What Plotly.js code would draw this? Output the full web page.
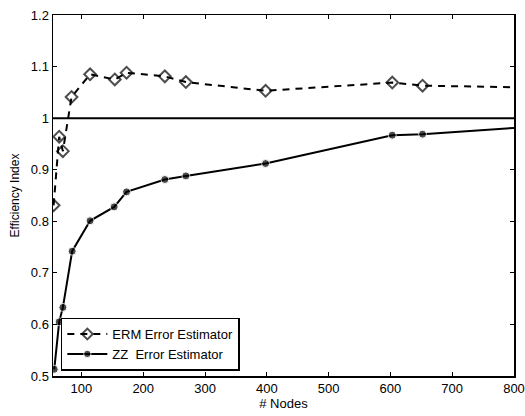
<!DOCTYPE html>
<html><head><meta charset="utf-8">
<script src="https://cdn.plot.ly/plotly-3.0.1.min.js"></script>
<style>html,body{margin:0;padding:0;background:#fff}</style>
</head><body>
<div id="chart" style="width:525px;height:416px"></div>
<script>
const ermNodes = [55, 64, 70, 84, 114, 154, 173, 235, 269, 398, 603, 652, 800];
const ermIndex = [0.831, 0.964, 0.936, 1.041, 1.085, 1.075, 1.088, 1.081, 1.070, 1.053, 1.069, 1.063, 1.060];
const zzNodes = [56, 64, 70, 85, 114, 153, 173, 235, 269, 398, 603, 652, 800];
const zzIndex = [0.513, 0.605, 0.633, 0.742, 0.801, 0.828, 0.857, 0.881, 0.888, 0.912, 0.967, 0.969, 0.981];
const refNodes = [54, 800];
const refIndex = [1, 1];
const xTicks = [100, 200, 300, 400, 500, 600, 700, 800];
const yTicks = [0.5, 0.6, 0.7, 0.8, 0.9, 1, 1.1, 1.2];

const mSizesErm = ermNodes.map((v, i) => i === ermNodes.length - 1 ? 0 : 9);
const mSizesZz = zzNodes.map((v, i) => i === zzNodes.length - 1 ? 0 : 8);

const traces = [
  {x: refNodes, y: refIndex, mode: 'lines', line: {color: '#000', width: 2}, showlegend: false, hoverinfo: 'skip'},
  {x: ermNodes, y: ermIndex, mode: 'lines+markers', name: 'ERM Error Estimator',
   line: {color: '#000', width: 2, dash: '7px,6px'},
   marker: {symbol: 'diamond-open', size: mSizesErm, color: '#000', line: {width: 2, color: '#000'}}},
  {x: zzNodes, y: zzIndex, mode: 'lines+markers', name: 'ZZ  Error Estimator',
   line: {color: '#000', width: 2},
   marker: {symbol: 'circle', size: mSizesZz, color: '#000'}}
];

const axisCommon = {
  showgrid: false, zeroline: false, showline: true, mirror: 'ticks',
  linecolor: '#000', linewidth: 1.5, ticks: 'inside', ticklen: 4, tickcolor: '#000',
  tickfont: {family: 'Liberation Sans, Arial, sans-serif', size: 13, color: '#000'}
};

const layout = {
  width: 525, height: 416,
  margin: {l: 53, r: 11, t: 15, b: 40},
  paper_bgcolor: '#fff', plot_bgcolor: '#fff',
  font: {family: 'Liberation Sans, Arial, sans-serif', color: '#000'},
  xaxis: Object.assign({}, axisCommon, {
    range: [54, 800], tickvals: xTicks, ticktext: xTicks.map(String),
    title: {text: '# Nodes', font: {size: 13}, standoff: 2}
  }),
  yaxis: Object.assign({}, axisCommon, {
    range: [0.5, 1.2], tickvals: yTicks, ticktext: yTicks.map(String),
    title: {text: 'Efficiency Index', font: {size: 12}, standoff: 8}
  }),
  legend: {
    x: 0.017, y: 0.015, xanchor: 'left', yanchor: 'bottom',
    bgcolor: '#fff', bordercolor: '#000', borderwidth: 1.5,
    font: {size: 13, color: '#000'}, tracegroupgap: 0, itemwidth: 40
  },
  showlegend: true
};

Plotly.newPlot('chart', traces, layout, {staticPlot: true});
</script>
</body></html>
